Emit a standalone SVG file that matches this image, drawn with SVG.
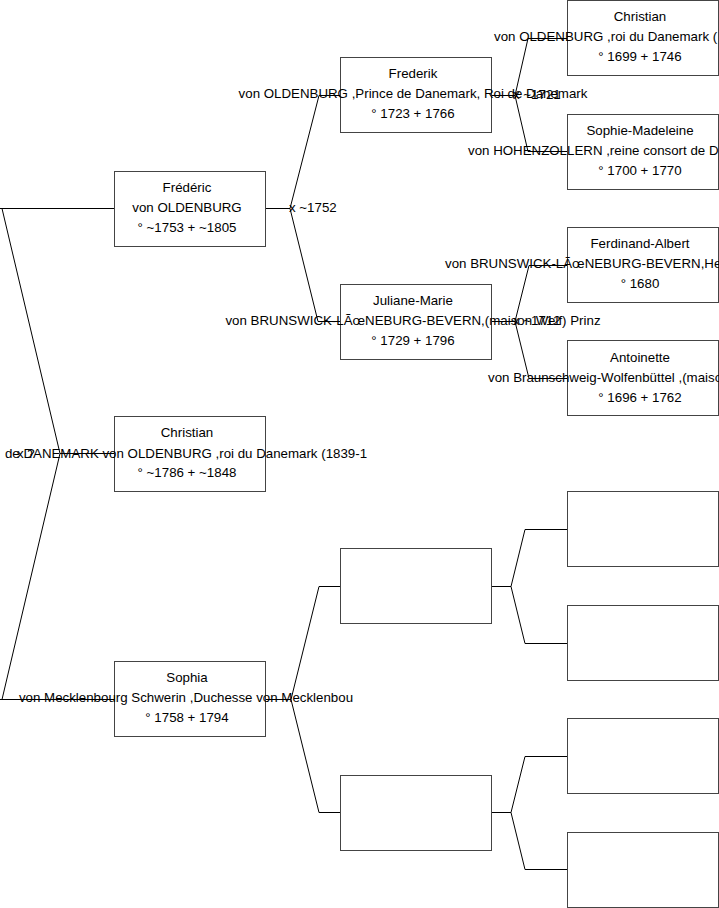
<svg xmlns="http://www.w3.org/2000/svg" width="719" height="908" viewBox="0 0 719 908">
<style>
.box{fill:#fff;stroke:#444;stroke-width:1}
.c{fill:none;stroke:#000;stroke-width:1}
text{font-family:"Liberation Sans",Arial,sans-serif;font-size:13.3px;fill:#000}
.m{text-anchor:middle}
</style>
<rect width="719" height="908" fill="#fff"/>
<g id="connectors">
<path class="c" d="M0,208.5H114.5M2,208.5L60,453.5L2,699.5M60,453.5H114.5M0,699.5H114.5"/>
<path class="c" d="M265,208.5H290M319,95.5L290,208.5L318,321.5M319,95.5H340.5M318,321.5H340.5"/>
<path class="c" d="M265,699.5H291M319,586.5L291,699.5L319,812.5M319,586.5H340.5M319,812.5H340.5"/>
<path class="c" d="M491,95.5H515M528,38.5L515,95.5L528,151.5M528,38.5H567.5M528,151.5H567.5"/>
<path class="c" d="M491,321.5H515M529,265.5L515,321.5L529,378.5M529,265.5H567.5M529,378.5H567.5"/>
<path class="c" d="M491,586.5H511M525,529.5L511,586.5L525,643.5M525,529.5H567.5M525,643.5H567.5"/>
<path class="c" d="M491,812.5H511M525,756.5L511,812.5L525,869.5M525,756.5H567.5M525,869.5H567.5"/>
</g>
<g id="n_frederic">
<rect class="box" x="114.5" y="171.5" width="151" height="75"/>
<text class="m" x="187" y="191.5">Frédéric</text>
<text class="m" x="187" y="211.5">von OLDENBURG</text>
<text class="m" x="187" y="231.5">° ~1753 + ~1805</text>
</g>
<g id="n_christian1">
<rect class="box" x="114.5" y="416.5" width="151" height="75"/>
<text class="m" x="187" y="436.5">Christian</text>
<text class="m" x="186" y="457.5">de DANEMARK von OLDENBURG ,roi du Danemark (1839-1</text>
<text class="m" x="187" y="477">° ~1786 + ~1848</text>
</g>
<g id="n_sophia">
<rect class="box" x="114.5" y="661.5" width="151" height="75"/>
<text class="m" x="187" y="682">Sophia</text>
<text class="m" x="186" y="702">von Mecklenbourg Schwerin ,Duchesse von Mecklenbou</text>
<text class="m" x="187" y="722">° 1758 + 1794</text>
</g>
<g id="n_frederik">
<rect class="box" x="340.5" y="57.5" width="151" height="75"/>
<text class="m" x="413" y="78">Frederik</text>
<text class="m" x="413" y="98">von OLDENBURG ,Prince de Danemark, Roi de Danemark</text>
<text class="m" x="413" y="118">° 1723 + 1766</text>
</g>
<g id="n_juliane">
<rect class="box" x="340.5" y="284.5" width="151" height="75"/>
<text class="m" x="413" y="304.5">Juliane-Marie</text>
<text class="m" x="413" y="324.5">von BRUNSWICK-LÃœNEBURG-BEVERN,(maison Welf) Prinz</text>
<text class="m" x="413" y="344.5">° 1729 + 1796</text>
</g>
<g id="n_empty2a"><rect class="box" x="340.5" y="548.5" width="151" height="75"/></g>
<g id="n_empty2b"><rect class="box" x="340.5" y="775.5" width="151" height="75"/></g>
<g id="n_christian3">
<rect class="box" x="567.5" y="0.5" width="151" height="75"/>
<text class="m" x="640" y="21">Christian</text>
<text x="494" y="41">von OLDENBURG ,roi du Danemark (</text>
<text class="m" x="640" y="61">° 1699 + 1746</text>
</g>
<g id="n_sophiemad">
<rect class="box" x="567.5" y="114.5" width="151" height="75"/>
<text class="m" x="640" y="134.5">Sophie-Madeleine</text>
<text x="468" y="154.5">von HOHENZOLLERN ,reine consort de D</text>
<text class="m" x="640" y="174.5">° 1700 + 1770</text>
</g>
<g id="n_ferdinand">
<rect class="box" x="567.5" y="227.5" width="151" height="75"/>
<text class="m" x="640" y="248">Ferdinand-Albert</text>
<text x="445" y="268">von BRUNSWICK-LÃœNEBURG-BEVERN,He</text>
<text class="m" x="640" y="288">° 1680</text>
</g>
<g id="n_antoinette">
<rect class="box" x="567.5" y="340.5" width="151" height="75"/>
<text class="m" x="640" y="361.5">Antoinette</text>
<text x="488" y="381.5">von Braunschweig-Wolfenbüttel ,(maiso</text>
<text class="m" x="640" y="401.5">° 1696 + 1762</text>
</g>
<g id="n_empty3a"><rect class="box" x="567.5" y="491.5" width="151" height="75"/></g>
<g id="n_empty3b"><rect class="box" x="567.5" y="605.5" width="151" height="75"/></g>
<g id="n_empty3c"><rect class="box" x="567.5" y="718.5" width="151" height="75"/></g>
<g id="n_empty3d"><rect class="box" x="567.5" y="832.5" width="151" height="75"/></g>
<g id="labels">
<text x="289" y="212">x ~1752</text>
<text x="513" y="99">x ~1721</text>
<text x="513" y="325">x ~1712</text>
<text x="17" y="457.5">x ?</text>
</g>
</svg>
